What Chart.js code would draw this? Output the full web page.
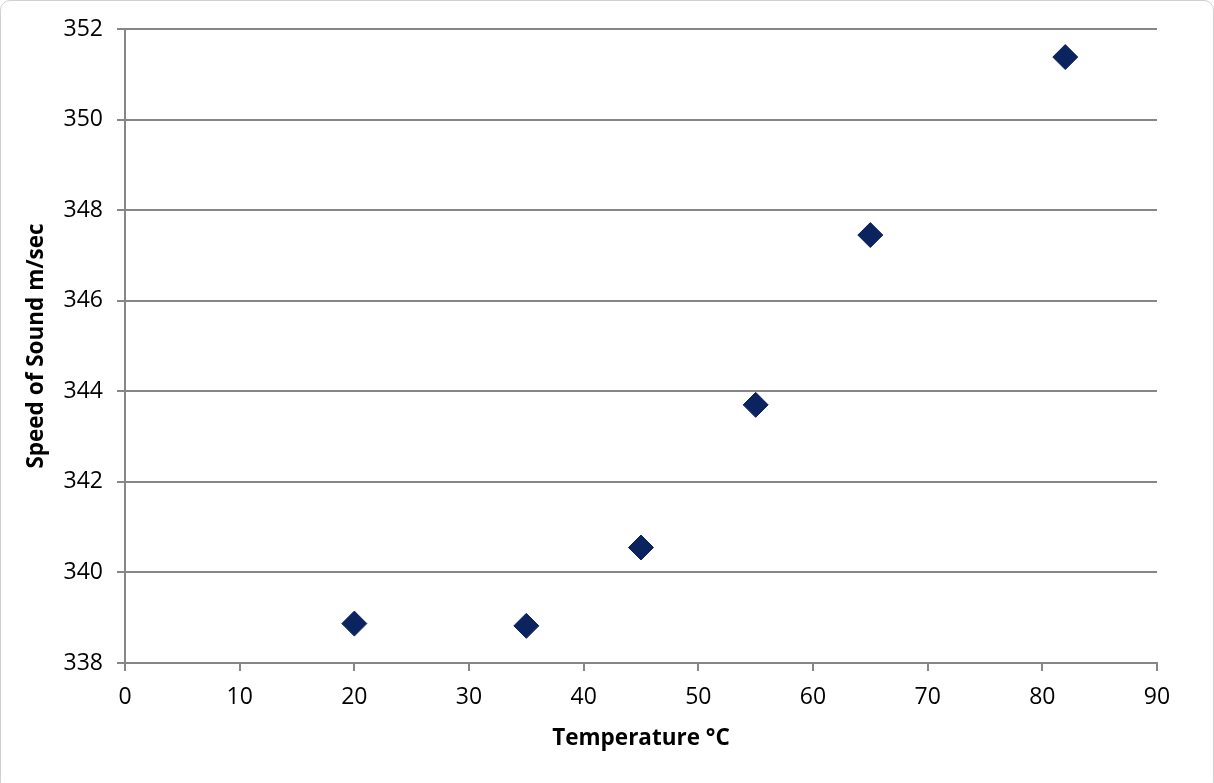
<!DOCTYPE html>
<html>
<head>
<meta charset="utf-8">
<script src="https://cdn.jsdelivr.net/npm/chart.js@4"></script>
<style>
  html, body { margin: 0; padding: 0; background: #fff; }
  #frame {
    position: relative;
    width: 1212px;
    height: 790px;
    border: 1px solid #d0d0d0;
    border-radius: 10px;
    overflow: hidden;
  }
  canvas { position: absolute; left: 0; top: 0; }
</style>
</head>
<body>
<div id="frame">
  <canvas id="chart" width="1214" height="783"></canvas>
</div>
<script>
// Measured points
const temperatures = [20, 35, 45, 55, 65, 82];
const speeds = [338.87, 338.82, 340.55, 343.7, 347.45, 351.38];

const xTitle = 'Temperature °C';
const yTitle = 'Speed of Sound m/sec';

const gridGray = '#868686';
const markerBlue = '#0b2460';
const fontFamily = '"Open Sans", "Liberation Sans", sans-serif';

document.addEventListener('DOMContentLoaded', function() {
    const canvas = document.getElementById('chart');
    canvas.style.width = '1214px';
    canvas.style.height = '783px';

    const points = temperatures.map((t, i) => ({ x: t, y: speeds[i] }));

    new Chart(canvas.getContext('2d'), {
        type: 'scatter',
        data: {
            datasets: [{
                data: points,
                pointStyle: 'rectRot',
                pointRadius: 12.5,
                pointHoverRadius: 12.5,
                backgroundColor: markerBlue,
                borderColor: markerBlue,
                borderWidth: 1
            }]
        },
        options: {
            responsive: false,
            animation: false,
            layout: {
                padding: { left: 0, right: 58, top: 28, bottom: 0 }
            },
            plugins: {
                legend: { display: false },
                tooltip: { enabled: false }
            },
            scales: {
                x: {
                    type: 'linear',
                    min: 0,
                    max: 90,
                    ticks: {
                        stepSize: 10,
                        color: '#000',
                        padding: 13,
                        font: { family: fontFamily, size: 23 }
                    },
                    grid: {
                        drawOnChartArea: false,
                        color: gridGray,
                        lineWidth: 2,
                        tickLength: 8
                    },
                    border: { color: gridGray, width: 2 },
                    title: {
                        display: true,
                        text: xTitle,
                        color: '#000',
                        padding: { top: 8, bottom: 32 },
                        font: { family: fontFamily, size: 22.5, weight: 'bold' }
                    },
                    afterFit: function(scale) { scale.height = 121; }
                },
                y: {
                    type: 'linear',
                    min: 338,
                    max: 352,
                    ticks: {
                        stepSize: 2,
                        color: '#000',
                        padding: 14,
                        font: { family: fontFamily, size: 23 }
                    },
                    grid: {
                        color: gridGray,
                        lineWidth: 2,
                        tickLength: 8
                    },
                    border: { color: gridGray, width: 2 },
                    title: {
                        display: true,
                        text: yTitle,
                        color: '#000',
                        padding: { top: 22, bottom: 0 },
                        font: { family: fontFamily, size: 22.5, weight: 'bold' }
                    },
                    afterFit: function(scale) { scale.width = 124; }
                }
            }
        }
    });
});
</script>
</body>
</html>
